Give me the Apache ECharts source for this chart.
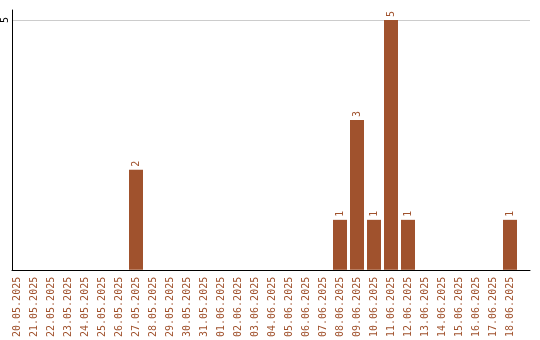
<!DOCTYPE html>
<html>
<head>
<meta charset="utf-8">
<script src="https://cdn.jsdelivr.net/npm/echarts@6/dist/echarts.min.js"></script>
<style>html,body{margin:0;padding:0;background:#fff}#c{width:540px;height:340px}</style>
</head>
<body>
<div id="c"></div>
<script>
var categories = ['20.05.2025','21.05.2025','22.05.2025','23.05.2025','24.05.2025','25.05.2025','26.05.2025','27.05.2025','28.05.2025','29.05.2025','30.05.2025','31.05.2025','01.06.2025','02.06.2025','03.06.2025','04.06.2025','05.06.2025','06.06.2025','07.06.2025','08.06.2025','09.06.2025','10.06.2025','11.06.2025','12.06.2025','13.06.2025','14.06.2025','15.06.2025','16.06.2025','17.06.2025','18.06.2025'];
var counts = [0,0,0,0,0,0,0,2,0,0,0,0,0,0,0,0,0,0,0,1,3,1,5,1,0,0,0,0,0,1];
var yTicks = [5];

var brown = '#a0522d';
var font = '"DejaVu Sans Mono", monospace';
var chart = echarts.init(document.getElementById('c'), null, {renderer: 'canvas'});
chart.setOption({
  animation: false,
  grid: [
    {left: 8.5, width: 510, top: 10, height: 260, containLabel: false},
    {left: 10, width: 520, top: 10, height: 260, containLabel: false}
  ],
  xAxis: [
    {type: 'category', gridIndex: 0, data: categories,
     axisLine: {show: false}, axisTick: {show: false},
     axisLabel: {rotate: 90, interval: 0, margin: 7, color: brown, fontFamily: font, fontSize: 10}},
    {type: 'value', gridIndex: 1, min: 0, max: 1,
     axisLine: {show: true, lineStyle: {color: '#000', width: 1}},
     axisTick: {show: false}, axisLabel: {show: false}, splitLine: {show: false}}
  ],
  yAxis: [
    {type: 'value', gridIndex: 0, min: 0, max: 5.2, show: false, splitLine: {show: false}},
    {type: 'value', gridIndex: 1, min: 0, max: 5.2, interval: 5,
     axisLine: {show: true, lineStyle: {color: '#000', width: 1}},
     axisTick: {show: false},
     axisLabel: {rotate: 90, margin: 2, color: '#000', fontFamily: font, fontSize: 10,
       showMaxLabel: false, showMinLabel: false,
       formatter: function (v) { return yTicks.indexOf(v) >= 0 ? String(v) : ''; }},
     splitLine: {show: true, showMinLine: false, showMaxLine: false, lineStyle: {color: '#cccccc', width: 1}}}
  ],
  series: [{
    type: 'bar', xAxisIndex: 0, yAxisIndex: 0, data: counts, barWidth: 14,
    itemStyle: {color: brown},
    label: {show: true, position: 'top', rotate: 90, align: 'left', verticalAlign: 'middle', distance: 3,
      color: brown, fontFamily: font, fontSize: 10,
      formatter: function (p) { return p.value ? String(p.value) : ''; }}
  }]
});
</script>
</body>
</html>
